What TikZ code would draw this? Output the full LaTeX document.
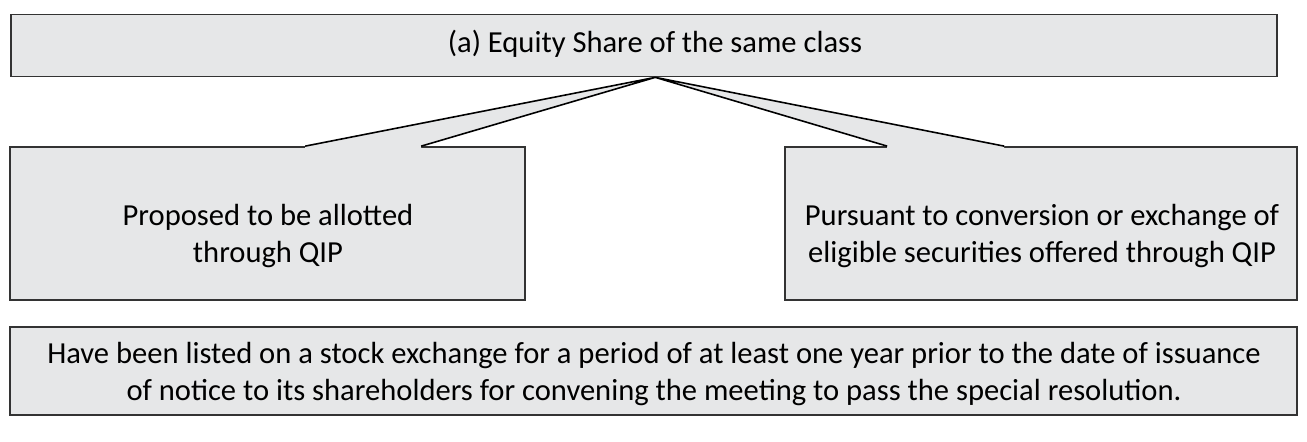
\documentclass[tikz,border=0pt]{standalone}
\usepackage{fontspec}
\setmainfont{Carlito}
\usetikzlibrary{calc}
\definecolor{boxgray}{HTML}{E6E7E8}
\definecolor{edgegray}{HTML}{333333}
\tikzset{
  box/.style={draw=edgegray,fill=boxgray,line width=1pt,inner sep=0pt},
  txt/.style={align=center,font=\fontsize{17.4}{21}\selectfont,inner sep=0pt},
  wedge/.style={fill=boxgray},
  wedgeline/.style={draw=black,line width=0.9pt}
}
\begin{document}
\begin{tikzpicture}[x=0.02cm,y=-0.02cm]
  \useasboundingbox (0,0) rectangle (1307,442);

  % boxes
  \node[box,minimum width=25.32cm,minimum height=1.24cm] (share) at (644,45.5) {};
  \node[box,minimum width=10.3cm,minimum height=3.06cm] (qip) at (267.5,223.5) {};
  \node[box,minimum width=10.24cm,minimum height=3.06cm] (conv) at (1041,223.5) {};
  \node[box,minimum width=25.74cm,minimum height=1.76cm] (listed) at (653.5,371) {};

  % texts
  \node[txt] (sharetxt) at (655,44) {(a) Equity Share of the same class};
  \node[txt] (qiptxt) at (268,236) {Proposed to be allotted\\through QIP};
  \node[txt] (convtxt) at (1042,236) {Pursuant to conversion or exchange of\\eligible securities offered through QIP};
  \node[txt] (listedtxt) at (654,374) {Have been listed on a stock exchange for a period of at least one year prior to the date of issuance\\of notice to its shareholders for convening the meeting to pass the special resolution.};

  % callouts
  \coordinate (apex) at ($(share.south west)+(645,0)$);
  \coordinate (qipa) at ($(qip.north west)+(296,0)$);
  \coordinate (qipb) at ($(qip.north west)+(412,0)$);
  \coordinate (conva) at ($(conv.north west)+(103,0)$);
  \coordinate (convb) at ($(conv.north west)+(220,0)$);

  \fill[wedge] (apex) -- (qipa) -- ++(0,2) -| (qipb) -- cycle;
  \fill[wedge] (apex) -- (conva) -- ++(0,2) -| (convb) -- cycle;
  \draw[wedgeline] (qipa) -- (apex) -- (qipb);
  \draw[wedgeline] (conva) -- (apex) -- (convb);
\end{tikzpicture}
\end{document}
